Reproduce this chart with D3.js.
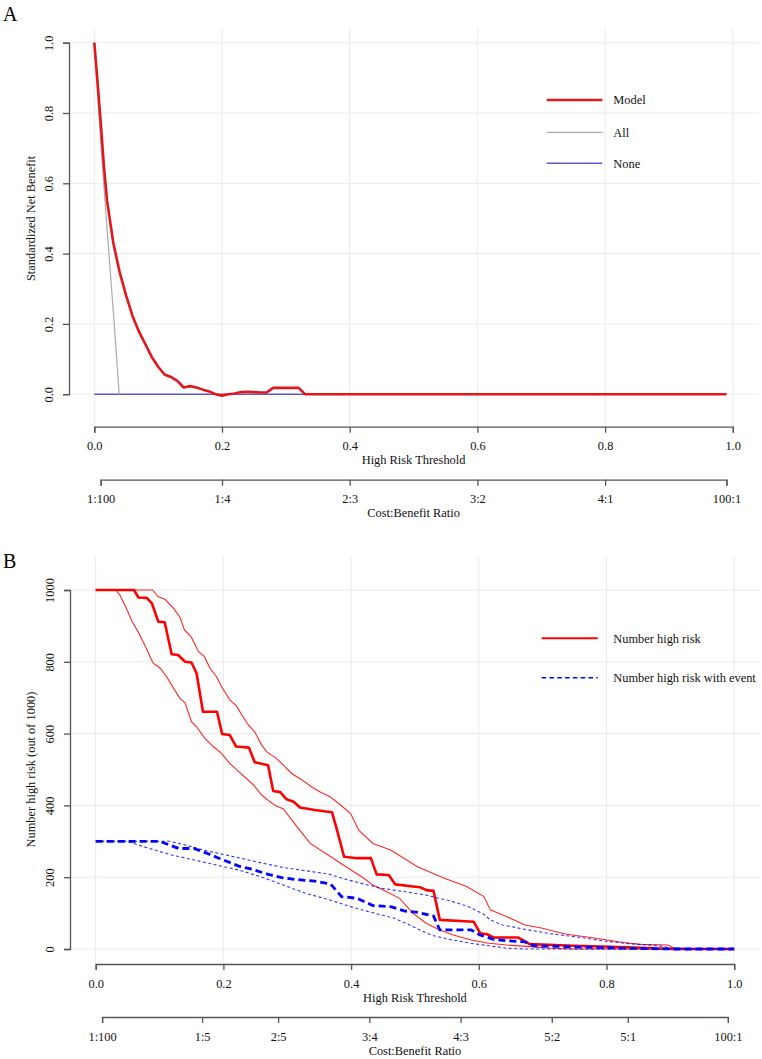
<!DOCTYPE html>
<html>
<head>
<meta charset="utf-8">
<script src="https://cdn.jsdelivr.net/npm/d3@7"></script>
<style>
  html, body { margin: 0; padding: 0; background: #fff; }
  svg { display: block; }
  svg text { font-family: "Liberation Serif", "DejaVu Serif", serif !important; }
</style>
</head>
<body>
<svg id="chart" width="762" height="1059" font-family="Liberation Serif, serif"></svg>
<script>
// ---------------- DATA ----------------
// Panel A: standardized net benefit
const modelThr = [0.00,0.005,0.01,0.015,0.02,0.03,0.04,0.05,0.06,0.07,0.08,0.09,0.10,0.11,0.12,0.13,0.14,0.15,0.16,0.17,0.18,0.19,0.20,0.21,0.22,0.23,0.24,0.25,0.26,0.27,0.28,0.29,0.30,0.31,0.32,0.33,0.99];
const modelNB  = [1.000,0.890,0.775,0.650,0.550,0.428,0.345,0.280,0.222,0.178,0.142,0.106,0.078,0.056,0.049,0.038,0.019,0.023,0.019,0.013,0.008,0.000,-0.004,0.000,0.002,0.006,0.007,0.006,0.005,0.005,0.018,0.018,0.018,0.018,0.018,0.000,0.000];
const allThr   = [0.00,0.01,0.02,0.03,0.039];
const allNB    = [1.00,0.72,0.47,0.23,0.00];
const noneThr  = [0.00,0.99];
const noneNB   = [0.00,0.00];
const yTicksA  = [0.0,0.2,0.4,0.6,0.8,1.0];
const xTicks   = [0.0,0.2,0.4,0.6,0.8,1.0];
const ratioValsA   = [0.01,0.2,0.4,0.6,0.8,100/101];
const ratioLabelsA = ["1:100","1:4","2:3","3:2","4:1","100:1"];
const legendA  = ["Model","All","None"];

// Panel B: clinical impact (number high risk out of 1000)
const hrThr  = [0,0.06,0.067,0.08,0.088,0.098,0.108,0.119,0.129,0.14,0.15,0.158,0.168,0.19,0.198,0.21,0.22,0.24,0.249,0.27,0.278,0.289,0.299,0.31,0.32,0.343,0.37,0.378,0.389,0.41,0.431,0.44,0.459,0.469,0.497,0.508,0.518,0.529,0.539,0.592,0.602,0.613,0.623,0.662,0.679,0.749,0.833,0.903,1.0];
const hrVal  = [1000,1000,979,978,963,912,910,821,819,800,798,768,661,661,599,596,564,561,520,512,440,437,417,410,394,387,381,331,257,253,253,208,206,180,174,172,164,162,81,76,44,41,32,32,14,9,5,0,0];
const hrHiThr = [0,0.089,0.098,0.1085,0.122,0.132,0.139,0.15,0.161,0.17,0.179,0.189,0.197,0.21,0.22,0.229,0.239,0.249,0.26,0.268,0.283,0.294,0.307,0.323,0.338,0.351,0.367,0.38,0.399,0.412,0.434,0.462,0.504,0.546,0.581,0.608,0.618,0.644,0.672,0.70,0.735,0.784,0.826,0.854,0.896,0.907,1.0];
const hrHiVal = [1000,1000,981,974,949,924,889,868,828,815,782,759,731,694,678,652,624,605,568,549,531,512,489,471,452,438,424,406,378,331,294,276,229,197,174,146,109,90,67,58,42,30,18,13,11,2,0];
const hrLoThr = [0,0.031,0.038,0.048,0.057,0.068,0.078,0.09,0.101,0.111,0.122,0.132,0.14,0.15,0.158,0.171,0.184,0.197,0.21,0.221,0.236,0.247,0.26,0.273,0.283,0.294,0.315,0.336,0.364,0.392,0.42,0.434,0.455,0.476,0.497,0.518,0.539,0.56,0.588,0.616,0.644,0.686,0.714,0.749,1.0];
const hrLoVal = [1000,1000,986,949,912,879,842,796,782,759,726,698,686,633,619,587,564,545,517,499,475,457,429,410,398,390,341,294,262,229,197,178,160,141,99,71,53,39,25,16,11,6,2,0,0];
const evThr  = [0,0.1,0.115,0.13,0.154,0.175,0.193,0.207,0.224,0.245,0.27,0.291,0.311,0.343,0.368,0.385,0.41,0.434,0.462,0.483,0.504,0.529,0.539,0.588,0.602,0.623,0.644,0.672,0.686,0.749,0.833,0.903,1.0];
const evVal  = [300,300,290,280,280,266,253,243,231,222,208,199,194,189,181,146,141,121,118,106,102,92,53,53,39,27,23,20,9,6,2,0,0];
const evHiThr = [0,0.116,0.14,0.168,0.196,0.224,0.259,0.294,0.329,0.364,0.392,0.42,0.448,0.483,0.518,0.553,0.581,0.606,0.618,0.637,0.672,0.714,0.756,0.798,0.84,0.882,0.903,1.0];
const evHiVal = [300,300,290,276,265,254,240,227,218,209,194,181,169,160,150,135,120,99,81,67,55,42,33,22,14,9,2,0];
const evLoThr = [0,0.049,0.084,0.119,0.154,0.189,0.224,0.259,0.294,0.329,0.364,0.399,0.434,0.469,0.497,0.525,0.553,0.588,0.616,0.644,0.672,1.0];
const evLoVal = [300,300,280,262,248,234,220,201,178,155,138,118,101,85,62,39,27,16,9,2,0,0];
const yTicksB = [0,200,400,600,800,1000];
const ratioValsB   = [0.01,1/6,2/7,3/7,4/7,5/7,5/6,100/101];
const ratioLabelsB = ["1:100","1:5","2:5","3:4","4:3","5:2","5:1","100:1"];
const legendB = ["Number high risk","Number high risk with event"];

// ---------------- DRAW ----------------
const svg = d3.select("#chart");
const zip = (xs, ys) => xs.map((x, i) => [x, ys[i]]);
const FONT = "Liberation Serif, DejaVu Serif, serif";
const FS = 12.4;
const TXT = "#111";
const AX = "#555";
const GRID = "#ebebeb";

function styleAxis(g) {
  g.attr("font-family", null).attr("font-size", null);
  g.selectAll(".domain").attr("stroke", AX).attr("stroke-width", 1.3);
  g.selectAll(".tick line").attr("stroke", AX).attr("stroke-width", 1.3);
  g.selectAll(".tick text").attr("fill", TXT).attr("font-family", FONT).attr("font-size", FS);
}
function addText(g, x, y, t, anchor) {
  return g.append("text").attr("x", x).attr("y", y).attr("text-anchor", anchor || "start")
    .attr("fill", TXT).attr("font-family", FONT).attr("font-size", FS).text(t);
}

function panel(cfg) {
  const { x, y, region, yTicks, yFmt, axisY, ratioVals, ratioLabels, label, ylab, xAxisY } = cfg;
  const g = svg.append("g");

  // grid
  g.append("g").selectAll("line").data(xTicks).join("line")
    .attr("x1", d => x(d)).attr("x2", d => x(d))
    .attr("y1", region.top).attr("y2", region.bottom)
    .attr("stroke", GRID).attr("stroke-width", 1);
  g.append("g").selectAll("line").data(yTicks).join("line")
    .attr("x1", region.left).attr("x2", region.right)
    .attr("y1", d => y(d)).attr("y2", d => y(d))
    .attr("stroke", GRID).attr("stroke-width", 1);

  // y axis
  const ya = g.append("g").attr("transform", `translate(${axisY},0)`)
    .call(d3.axisLeft(y).tickValues(yTicks).tickFormat(yFmt).tickSizeOuter(0).tickSize(6));
  styleAxis(ya);
  ya.selectAll(".tick text").attr("dy", null)
    .attr("transform", "rotate(-90)").attr("x", 0).attr("y", -16).attr("text-anchor", "middle");

  // x axis (threshold)
  const xa = g.append("g").attr("transform", `translate(0,${xAxisY})`)
    .call(d3.axisBottom(x).tickValues(xTicks).tickFormat(d3.format(".1f")).tickSizeOuter(0).tickSize(6));
  styleAxis(xa);
  xa.selectAll(".tick text").attr("dy", null).attr("y", 23.5);

  addText(g, (x(0) + x(1)) / 2, xAxisY + 37.5, "High Risk Threshold", "middle");

  // cost:benefit axis
  const rScale = d3.scaleLinear().domain([ratioVals[0], ratioVals[ratioVals.length - 1]])
    .range([x(ratioVals[0]), x(ratioVals[ratioVals.length - 1])]);
  const ra = g.append("g").attr("transform", `translate(0,${xAxisY + 53})`)
    .call(d3.axisBottom(rScale).tickValues(ratioVals).tickFormat((d, i) => ratioLabels[i]).tickSizeOuter(0).tickSize(6));
  styleAxis(ra);
  ra.selectAll(".tick text").attr("dy", null).attr("y", 23.5);

  addText(g, (x(0) + x(1)) / 2, xAxisY + 90.5, "Cost:Benefit Ratio", "middle");

  // y label
  addText(g, 0, 0, ylab, "middle")
    .attr("transform", `translate(35,${(y(yTicks[0]) + y(yTicks[yTicks.length - 1])) / 2}) rotate(-90)`);

  // panel letter
  addText(g, 3, label.y, label.text).attr("fill", "#000").attr("font-size", 20);

  return g;
}

// ---- Panel A ----
const xA = d3.scaleLinear().domain([0, 1]).range([94.3, 732.8]);
const yA = d3.scaleLinear().domain([0, 1]).range([394.2, 42.7]);
const gA = panel({
  x: xA, y: yA, region: { left: 69, right: 759, top: 28.3, bottom: 426.7 },
  yTicks: yTicksA, yFmt: d3.format(".1f"), axisY: 69, ratioVals: ratioValsA, ratioLabels: ratioLabelsA,
  label: { text: "A", y: 21 }, ylab: "Standardized Net Benefit", xAxisY: 426.7
});
const lineA = d3.line().x(d => xA(d[0])).y(d => yA(d[1])).curve(d3.curveMonotoneX);
const lineAlin = d3.line().x(d => xA(d[0])).y(d => yA(d[1]));
const colModel = "#e3161b", colAll = "#aaaaaa", colNone = "#5a5ad2";
gA.append("path").attr("d", lineAlin(zip(noneThr, noneNB))).attr("fill", "none").attr("stroke", colNone).attr("stroke-width", 1.5);
gA.append("path").attr("d", lineAlin(zip(allThr, allNB))).attr("fill", "none").attr("stroke", colAll).attr("stroke-width", 1.2);
gA.append("path").attr("d", lineAlin(zip(modelThr, modelNB))).attr("fill", "none").attr("stroke", colModel).attr("stroke-width", 2.6).attr("stroke-linejoin", "round");

const legA = gA.append("g");
const legAcol = [colModel, colAll, colNone], legAw = [2.6, 1.2, 1.5], legAy = [100, 132.3, 163.3];
legendA.forEach((t, i) => {
  legA.append("line").attr("x1", 546.7).attr("x2", 602.3).attr("y1", legAy[i]).attr("y2", legAy[i])
    .attr("stroke", legAcol[i]).attr("stroke-width", legAw[i]);
  addText(legA, 613.3, legAy[i] + 4.3, t);
});

// ---- Panel B ----
const xB = d3.scaleLinear().domain([0, 1]).range([95.7, 734.2]);
const yB = d3.scaleLinear().domain([0, 1000]).range([949, 590]);
const gB = panel({
  x: xB, y: yB, region: { left: 70, right: 760, top: 557, bottom: 964 },
  yTicks: yTicksB, yFmt: d3.format("d"), axisY: 70, ratioVals: ratioValsB, ratioLabels: ratioLabelsB,
  label: { text: "B", y: 568 }, ylab: "Number high risk (out of 1000)", xAxisY: 964
});
const lineB = d3.line().x(d => xB(d[0])).y(d => yB(d[1]));
const RED = "#ff0000", BLUE = "#0000ff";
gB.append("path").attr("d", lineB(zip(hrHiThr, hrHiVal))).attr("fill", "none").attr("stroke", RED).attr("stroke-width", 1.1).attr("opacity", 0.85);
gB.append("path").attr("d", lineB(zip(hrLoThr, hrLoVal))).attr("fill", "none").attr("stroke", RED).attr("stroke-width", 1.1).attr("opacity", 0.85);
gB.append("path").attr("d", lineB(zip(hrThr, hrVal))).attr("fill", "none").attr("stroke", RED).attr("stroke-width", 2.6).attr("stroke-linejoin", "round");
gB.append("path").attr("d", lineB(zip(evHiThr, evHiVal))).attr("fill", "none").attr("stroke", BLUE).attr("stroke-width", 1.1).attr("stroke-dasharray", "3,2.5").attr("opacity", 0.8);
gB.append("path").attr("d", lineB(zip(evLoThr, evLoVal))).attr("fill", "none").attr("stroke", BLUE).attr("stroke-width", 1.1).attr("stroke-dasharray", "3,2.5").attr("opacity", 0.8);
gB.append("path").attr("d", lineB(zip(evThr, evVal))).attr("fill", "none").attr("stroke", BLUE).attr("stroke-width", 2.8).attr("stroke-dasharray", "7,4");

const legB = gB.append("g");
const legBy = [638.3, 677.7];
legB.append("line").attr("x1", 541.7).attr("x2", 597.7).attr("y1", legBy[0]).attr("y2", legBy[0]).attr("stroke", RED).attr("stroke-width", 2);
legB.append("line").attr("x1", 541.7).attr("x2", 597.7).attr("y1", legBy[1]).attr("y2", legBy[1]).attr("stroke", BLUE).attr("stroke-width", 1.6).attr("stroke-dasharray", "4.5,3.3");
legendB.forEach((t, i) => addText(legB, 613.3, legBy[i] + 4.3, t));
</script>
</body>
</html>
